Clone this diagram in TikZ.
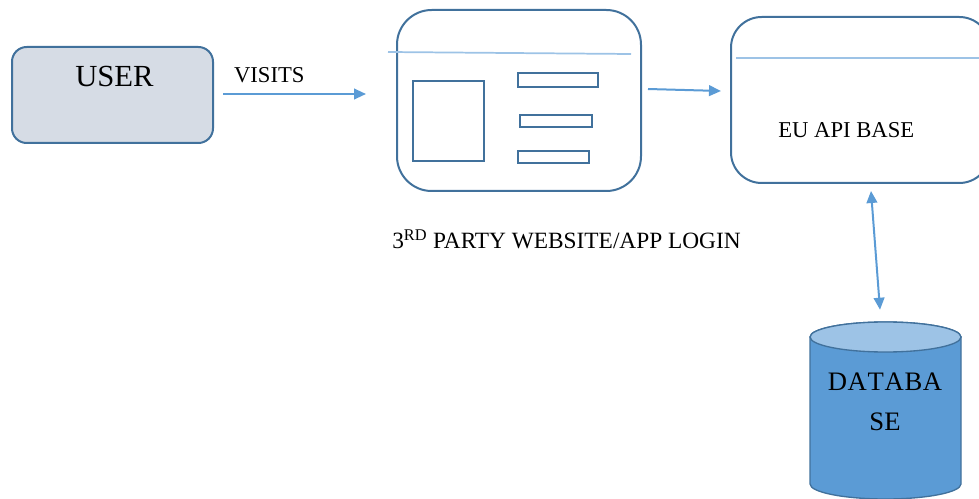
\documentclass[tikz,border=0pt]{standalone}
\usepackage{fontspec}
\setmainfont{Liberation Serif}
\usetikzlibrary{arrows.meta}
\definecolor{bdr}{HTML}{41719C}
\definecolor{arrc}{HTML}{5B9BD5}
\definecolor{sepc}{HTML}{9DC3E6}
\definecolor{userfill}{HTML}{D6DCE5}
\definecolor{dbfill}{HTML}{5B9BD5}
\definecolor{dbtop}{HTML}{9DC3E6}
\begin{document}
\begin{tikzpicture}[x=0.75pt,y=-0.75pt,
  boxstyle/.style={draw=bdr,line width=1.5pt,inner sep=0pt},
  arr/.style={draw=arrc,line width=1.5pt,-{Triangle[length=9pt,width=8pt]}},
  dblarr/.style={draw=arrc,line width=1.5pt,{Triangle[length=9pt,width=8pt]}-{Triangle[length=9pt,width=8pt]}},
  sepline/.style={draw=sepc,line width=1.3pt},
  inner/.style={draw=bdr,line width=1.5pt},
  txt/.style={inner sep=0pt,anchor=base west,text=black}]
\useasboundingbox (0,0) rectangle (979,499);

% USER box
\node[boxstyle,fill=userfill,rounded corners=11pt,minimum width=201*0.75pt,minimum height=96*0.75pt] (user) at (112.5,95) {};
\node[txt,font=\fontsize{23}{27}\selectfont] (usertxt) at (75,87) {USER};

% website box
\node[boxstyle,rounded corners=26pt,minimum width=244*0.75pt,minimum height=181*0.75pt] (web) at (519,100.5) {};
\draw[sepline] (388,52) -- (631,54);
\draw[inner] (413,81) rectangle (484,161);
\draw[inner] (518,73) rectangle (598,87);
\draw[inner] (520,115) rectangle (592,127);
\draw[inner] (518,151) rectangle (589,163);
\node[txt,font=\fontsize{17.5}{21}\selectfont] (webcap) at (392,249) {3\textsuperscript{RD} PARTY WEBSITE/APP LOGIN};

% EU API box
\node[boxstyle,rounded corners=23pt,minimum width=259*0.75pt,minimum height=166*0.75pt] (eu) at (860.5,100) {};
\draw[sepline] (736,58) -- (979,58);
\node[txt,font=\fontsize{17}{20}\selectfont] (eutxt) at (778,138) {EU API BASE};

% database cylinder
\node[inner sep=0pt,minimum width=151*0.75pt,minimum height=177*0.75pt] (db) at (885.5,410.5) {};
\filldraw[fill=dbfill,draw=bdr,line width=1pt] (810,337) -- (810,484)
  arc[start angle=180,end angle=360,x radius=56.625pt,y radius=11.25pt] -- (961,337)
  arc[start angle=0,end angle=180,x radius=56.625pt,y radius=11.25pt] -- cycle;
\filldraw[fill=dbtop,draw=bdr,line width=1pt] (885.5,337) ellipse [x radius=56.625pt,y radius=11.25pt];
\node[inner sep=0pt,anchor=base,font=\fontsize{20}{24}\selectfont] (dbt1) at (885,390) {D\kern0.5pt A\kern0.5pt T\kern0.5pt A\kern0.5pt B\kern0.5pt A};
\node[inner sep=0pt,anchor=base,font=\fontsize{20}{24}\selectfont] (dbt2) at (885,430) {SE};

% connectors
\draw[arr] ([shift={(9,-1)}]user.east) -- node[pos=0.07,inner sep=0pt,anchor=base west,yshift=8.25pt,font=\fontsize{17}{20}\selectfont] (visits) {VISITS} ([shift={(-30,-6.5)}]web.west);
\draw[arr] ([shift={(6,-11.5)}]web.east) -- ([shift={(-9,-9)}]eu.west);
\draw[dblarr] ([shift={(10.5,7)}]eu.south) -- ([shift={(-5.5,-12)}]db.north);
\end{tikzpicture}
\end{document}
